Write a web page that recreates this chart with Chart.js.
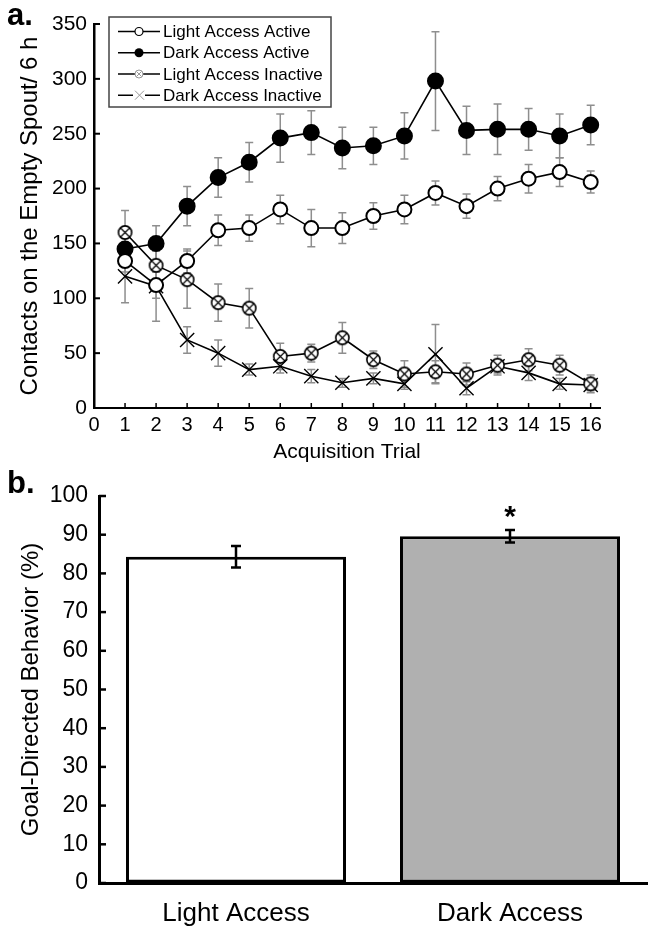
<!DOCTYPE html>
<html>
<head>
<meta charset="utf-8">
<script src="https://cdn.jsdelivr.net/npm/chart.js@4.4.1/dist/chart.umd.min.js"></script>
<style>
  body { margin: 0; background: #fff; }
  #wrap { position: relative; width: 654px; height: 926px; background: #fff; font-family: 'Liberation Sans', Arial, sans-serif; }
  #c1 { position: absolute; left: 0; top: 0; }
  #c2 { position: absolute; left: 0; top: 465px; }
  .panel { position: absolute; font-weight: bold; font-size: 31px; line-height: 30px; color: #000; }
</style>
</head>
<body>
<div id="wrap">
  <canvas id="c1" width="654" height="465"></canvas>
  <canvas id="c2" width="654" height="461"></canvas>
  <div class="panel" style="left:7px; top:0px;">a.</div>
  <div class="panel" style="left:7px; top:468px;">b.</div>
</div>
<script>
const ensayos = [1, 2, 3, 4, 5, 6, 7, 8, 9, 10, 11, 12, 13, 14, 15, 16]

const luzActivo = [134, 112, 134, 162, 164, 181, 164, 164, 175, 181, 196, 184, 200, 209, 215, 206]
const luzActivoErr = [10, 12, 11, 14, 12, 13, 17, 14, 12, 13, 11, 11, 11, 13, 13, 10]
const oscActivo = [145, 150, 184, 210, 224, 246, 251, 237, 239, 248, 298, 253, 254, 254, 248, 258]
const oscActivoErr = [10, 16, 18, 18, 18, 22, 20, 19, 17, 21, 45, 22, 23, 19, 20, 18]
const luzInactivo = [160, 130, 117, 96, 91, 47, 50, 64, 44, 31, 33, 31, 39, 44, 39, 22]
const luzInactivoErr = [20, 14, 26, 17, 18, 12, 8, 14, 8, 12, 10, 10, 9, 10, 9, 8]
const oscInactivo = [120, 111, 62, 50, 35, 38, 29, 23, 27, 22, 49, 18, 38, 32, 22, 21]
const oscInactivoErr = [24, 32, 12, 12, 5, 6, 6, 4, 5, 5, 27, 6, 6, 7, 5, 5]

const grupos = ['Light Access', 'Dark Access']
const conducta = [84.3, 89.6]
const conductaErr = [2.8, 1.6]

const ticksY1 = [0, 50, 100, 150, 200, 250, 300, 350]

const FUENTE = "'Liberation Sans', Arial, sans-serif"
const GRIS_ERR = '#8e8e8e'

// marcador circulo con X
function marcadorCruz() {
  const c = document.createElement('canvas')
  c.width = 17; c.height = 17
  const g = c.getContext('2d')
  g.fillStyle = '#fff'
  g.strokeStyle = '#000'
  g.lineWidth = 1.6
  g.beginPath(); g.arc(8.5, 8.5, 6.6, 0, Math.PI * 2); g.fill(); g.stroke()
  g.lineWidth = 1.2
  g.beginPath()
  g.moveTo(4, 4); g.lineTo(13, 13)
  g.moveTo(13, 4); g.lineTo(4, 13)
  g.stroke()
  return c
}
const cruzCirculo = marcadorCruz()

const barrasError = {
  id: 'barrasError',
  afterDatasetsDraw(chart) {
    const { ctx } = chart
    const ys = chart.scales.y
    chart.data.datasets.forEach((ds, i) => {
      if (!ds.errores) return
      const meta = chart.getDatasetMeta(i)
      ctx.save()
      ctx.strokeStyle = '#000'
      ctx.lineWidth = 2.5
      meta.data.forEach((el, j) => {
        const v = ds.data[j]
        const e = ds.errores[j]
        const x = el.x
        const y1 = ys.getPixelForValue(v + e)
        const y2 = ys.getPixelForValue(v - e)
        ctx.beginPath()
        ctx.moveTo(x, y1); ctx.lineTo(x, y2)
        ctx.moveTo(x - 5, y1); ctx.lineTo(x + 5, y1)
        ctx.moveTo(x - 5, y2); ctx.lineTo(x + 5, y2)
        ctx.stroke()
      })
      ctx.restore()
    })
  }
}

// marcas de eje hacia adentro
const marcasEje = {
  id: 'marcasEje',
  afterDraw(chart, args, opts) {
    const { ctx, chartArea } = chart
    ctx.save()
    ctx.strokeStyle = '#000'
    ctx.lineWidth = opts.ancho || 2
    const ys = chart.scales.y
    ys.ticks.forEach(t => {
      const y = ys.getPixelForValue(t.value)
      ctx.beginPath()
      ctx.moveTo(chartArea.left, y); ctx.lineTo(chartArea.left + (opts.largo || 6), y)
      ctx.stroke()
    })
    if (opts.ejeX) {
      const xs = chart.scales.x
      ctx.lineWidth = 1.5
      xs.ticks.forEach(t => {
        const x = xs.getPixelForValue(t.value)
        ctx.beginPath()
        ctx.moveTo(x, chartArea.bottom); ctx.lineTo(x, chartArea.bottom - 5)
        ctx.stroke()
      })
    }
    ctx.restore()
  }
}

const leyenda = {
  id: 'leyenda',
  afterDraw(chart) {
    const { ctx } = chart
    const x0 = 109, y0 = 17, w = 222, h = 90
    ctx.save()
    ctx.fillStyle = '#fff'
    ctx.fillRect(x0, y0, w, h)
    ctx.strokeStyle = '#444'
    ctx.lineWidth = 1.5
    ctx.strokeRect(x0, y0, w, h)
    const filas = [31.5, 52.8, 74, 95.2]
    chart.data.datasets.forEach((ds, i) => {
      const y = filas[i]
      ctx.strokeStyle = '#000'
      ctx.lineWidth = 1.5
      ctx.beginPath(); ctx.moveTo(118, y); ctx.lineTo(160, y); ctx.stroke()
      ctx.fillStyle = '#fff'
      if (i === 0) {
        ctx.beginPath(); ctx.arc(139, y, 4, 0, Math.PI * 2); ctx.fill(); ctx.lineWidth = 1.2; ctx.stroke()
      } else if (i === 1) {
        ctx.fillStyle = '#000'
        ctx.beginPath(); ctx.arc(139, y, 4.5, 0, Math.PI * 2); ctx.fill()
      } else if (i === 2) {
        ctx.strokeStyle = '#999'
        ctx.beginPath(); ctx.arc(139, y, 4, 0, Math.PI * 2); ctx.fill(); ctx.lineWidth = 1; ctx.stroke()
        ctx.beginPath(); ctx.moveTo(136.5, y - 2.5); ctx.lineTo(141.5, y + 2.5); ctx.moveTo(141.5, y - 2.5); ctx.lineTo(136.5, y + 2.5); ctx.stroke()
      } else {
        ctx.fillRect(133, y - 6, 12, 12)
        ctx.strokeStyle = '#999'
        ctx.lineWidth = 1
        ctx.beginPath(); ctx.moveTo(135, y - 4.5); ctx.lineTo(144, y + 4.5); ctx.moveTo(144, y - 4.5); ctx.lineTo(135, y + 4.5); ctx.stroke()
      }
      ctx.fillStyle = '#000'
      ctx.font = '17px ' + FUENTE
      ctx.textBaseline = 'middle'
      ctx.fillText(ds.label, 163, y + 1)
    })
    ctx.restore()
  }
}

const asterisco = {
  id: 'asterisco',
  afterDatasetsDraw(chart) {
    const { ctx } = chart
    const xs = chart.scales.x, ys = chart.scales.y
    const x = xs.getPixelForValue(1)
    const y = ys.getPixelForValue(conducta[1] + conductaErr[1]) - 12
    ctx.save()
    ctx.fillStyle = '#000'
    ctx.font = 'bold 30px ' + FUENTE
    ctx.textAlign = 'center'
    ctx.textBaseline = 'middle'
    ctx.fillText('*', x, y)
    ctx.restore()
  }
}

function serie(label, datos, err, estilo, radio, relleno) {
  return {
    label,
    data: datos.map((v, i) => ({ x: ensayos[i], y: v })),
    errores: err,
    borderColor: '#000',
    borderWidth: 1.6,
    pointStyle: estilo,
    pointRadius: radio,
    pointBackgroundColor: relleno,
    pointBorderColor: '#000',
    pointBorderWidth: 2,
    tension: 0,
    fill: false
  }
}

const dsTop = [
  serie('Light Access Active', luzActivo, luzActivoErr, 'circle', 7, '#fff'),
  serie('Dark Access Active', oscActivo, oscActivoErr, 'circle', 7.5, '#000'),
  serie('Light Access Inactive', luzInactivo, luzInactivoErr, cruzCirculo, 8, '#fff'),
  serie('Dark Access Inactive', oscInactivo, oscInactivoErr, 'crossRot', 10, '#000')
]
dsTop[3].pointBorderWidth = 1.4

const errTop = {
  id: 'errTop',
  beforeDatasetsDraw(chart) {
    const { ctx } = chart
    const ys = chart.scales.y
    chart.data.datasets.forEach((ds, i) => {
      const meta = chart.getDatasetMeta(i)
      const vals = ds.data.map(p => p.y)
      ctx.save()
      ctx.strokeStyle = GRIS_ERR
      ctx.lineWidth = 1.5
      meta.data.forEach((el, j) => {
        const x = el.x
        const y1 = ys.getPixelForValue(vals[j] + ds.errores[j])
        const y2 = ys.getPixelForValue(vals[j] - ds.errores[j])
        ctx.beginPath()
        ctx.moveTo(x, y1); ctx.lineTo(x, y2)
        ctx.moveTo(x - 4, y1); ctx.lineTo(x + 4, y1)
        ctx.moveTo(x - 4, y2); ctx.lineTo(x + 4, y2)
        ctx.stroke()
      })
      ctx.restore()
    })
  }
}

new Chart(document.getElementById('c1'), {
  type: 'line',
  data: { datasets: dsTop },
  plugins: [errTop, marcasEje, leyenda],
  options: {
    responsive: false,
    animation: false,
    layout: { padding: { left: 0, right: 54, top: 24, bottom: 0 } },
    plugins: {
      legend: { display: false },
      tooltip: { enabled: false },
      marcasEje: { ejeX: true, largo: 6, ancho: 2 }
    },
    scales: {
      x: {
        type: 'linear',
        min: 0,
        max: 16.3,
        afterBuildTicks: s => { s.ticks = [0].concat(ensayos).map(v => ({ value: v })) },
        afterFit: s => { s.height = 57 },
        ticks: { color: '#000', font: { size: 20, family: FUENTE }, padding: 5, maxRotation: 0, autoSkip: false },
        grid: { display: true, drawOnChartArea: false, drawTicks: false },
        border: { display: true, color: '#000', width: 2 },
        title: { display: true, text: 'Acquisition Trial', color: '#000', font: { size: 21, family: FUENTE }, padding: { top: 0, bottom: 0 } }
      },
      y: {
        min: 0,
        max: 350,
        afterBuildTicks: s => { s.ticks = ticksY1.map(v => ({ value: v })) },
        afterFit: s => { s.width = 94 },
        ticks: { color: '#000', font: { size: 21, family: FUENTE }, padding: 7 },
        grid: { display: true, drawOnChartArea: false, drawTicks: false },
        border: { display: true, color: '#000', width: 2.5 },
        title: { display: true, text: 'Contacts on the Empty Spout/ 6 h', color: '#000', font: { size: 24, family: FUENTE }, padding: { top: 16, bottom: 0 } }
      }
    }
  }
})

new Chart(document.getElementById('c2'), {
  type: 'bar',
  data: {
    labels: grupos,
    datasets: [{
      data: conducta,
      errores: conductaErr,
      backgroundColor: ['#ffffff', '#b0b0b0'],
      borderColor: '#000',
      borderWidth: 3,
      borderSkipped: false,
      barPercentage: 0.803,
      categoryPercentage: 1
    }]
  },
  plugins: [barrasError, marcasEje, asterisco],
  options: {
    responsive: false,
    animation: false,
    layout: { padding: { left: 0, right: 7, top: 31, bottom: 0 } },
    plugins: {
      legend: { display: false },
      tooltip: { enabled: false },
      marcasEje: { largo: 7, ancho: 2.5 }
    },
    scales: {
      x: {
        afterFit: s => { s.height = 43 },
        ticks: { color: '#000', font: { size: 26, family: FUENTE }, padding: 7 },
        grid: { display: false },
        border: { display: true, color: '#000', width: 3 }
      },
      y: {
        min: 0,
        max: 100,
        afterFit: s => { s.width = 99 },
        ticks: { stepSize: 10, color: '#000', font: { size: 23, family: FUENTE }, padding: 11 },
        grid: { display: true, drawOnChartArea: false, drawTicks: false },
        border: { display: true, color: '#000', width: 3 },
        title: { display: true, text: 'Goal-Directed Behavior (%)', color: '#000', font: { size: 24, family: FUENTE }, padding: { top: 17, bottom: 0 } }
      }
    }
  }
})
</script>
</body>
</html>
